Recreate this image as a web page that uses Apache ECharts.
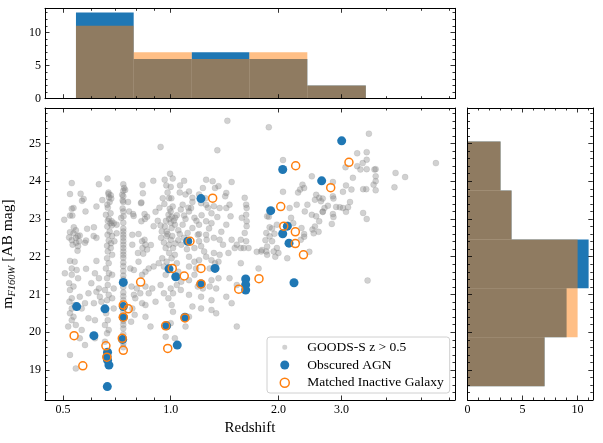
<!DOCTYPE html>
<html><head><meta charset="utf-8">
<script src="https://cdn.jsdelivr.net/npm/echarts@6/dist/echarts.min.js"></script>
<style>html,body{margin:0;padding:0;background:#fff}#c{width:603px;height:443px}</style>
</head><body><div id="c"></div>
<script>
// ---------- data (redshift z, magnitude m) ----------
const goodsPoints = [
[0.937,24.91],[0.529,23.95],[0.666,24.07],[0.63,23.92],[0.737,23.92],[0.741,23.82],[0.746,23.77],[0.523,23.66],[0.56,23.67],[0.571,23.53],[0.565,23.48],[0.67,23.66],[0.68,23.63],[0.672,23.57],[0.682,23.54],[0.732,23.64],[0.734,23.49],[0.76,23.45],[0.834,23.90],[0.836,23.68],[0.828,23.44],[0.894,24.01],[0.962,24.04],[0.972,23.89],[1.013,24.07],[0.996,24.20],[1.062,23.89],[1.09,24.01],[0.644,23.50],[0.665,23.38],[0.62,23.33],[0.529,23.27],[0.535,23.29],[0.523,23.09],[0.531,23.09],[0.578,23.20],[0.504,22.98],[0.659,23.11],[0.679,23.15],[0.684,22.94],[0.679,22.89],[0.693,22.89],[0.734,23.28],[0.738,23.07],[0.727,23.03],[0.765,23.20],[0.785,23.13],[0.788,23.08],[0.826,23.42],[0.845,23.13],[0.859,23.06],[0.847,23.00],[0.828,22.94],[0.907,23.19],[0.99,23.55],[1.004,23.55],[0.994,23.27],[1.013,23.33],[0.986,23.11],[1.006,23.06],[1.029,23.03],[1.0,22.9],[1.067,23.25],[1.08,23.38],[1.09,23.09],
[0.584,22.74],[0.61,22.78],[0.536,22.78],[0.543,22.70],[0.523,22.65],[0.535,22.62],[0.55,22.55],[0.543,22.50],[0.557,22.56],[0.52,22.51],[0.529,22.44],[0.544,22.37],[0.555,22.41],[0.58,22.43],[0.576,22.37],[0.551,22.28],[0.549,22.16],[0.532,22.32],[0.609,22.55],[0.62,22.50],
[0.665,22.80],[0.684,22.83],[0.675,22.67],[0.666,22.58],[0.686,22.55],[0.671,22.43],[0.681,22.36],[0.664,22.29],[0.68,22.23],[0.667,22.14],[0.686,22.05],[0.706,22.85],[0.706,22.62],[0.696,22.41],
[0.737,22.67],[0.737,22.58],[0.737,22.50],[0.737,22.41],[0.737,22.32],[0.737,22.23],[0.737,22.14],[0.737,22.05],[0.737,21.97],
[0.781,22.58],[0.813,22.60],[0.845,22.45],[0.832,22.41],[0.85,22.32],[0.834,22.23],[0.81,22.10],[0.838,22.08],[0.859,22.19],[0.781,22.32],[0.88,22.31],[0.896,22.81],[0.937,22.83],[0.963,22.80],[0.944,22.67],[0.974,22.67],[1.006,22.76],[1.027,22.85],[0.974,22.54],[1.0,22.45],[0.957,22.38],[0.99,22.32],[0.968,22.23],[1.015,22.23],[0.99,22.10],[1.027,22.05],[1.05,22.44],[1.07,22.32],
[1.44,25.60],[1.88,25.43],[1.35,24.82],[2.06,24.56],[2.48,24.13],[2.335,23.91],[2.36,23.82],[2.55,23.64],[2.60,23.56],[2.53,23.51],[2.63,23.47],[2.69,23.29],[2.41,23.38],[2.37,23.20],[2.48,23.11],[2.55,23.07],[2.60,22.94],[2.66,23.19],[2.49,22.72],[2.59,22.66],[2.06,23.72],[1.86,23.07],[1.89,22.78],[1.89,22.54],[1.95,22.61],[1.98,22.85],[1.92,22.41],[1.98,22.23],[2.0,22.10],[1.94,22.14],[1.85,22.14],[1.79,22.14],[2.36,22.60],[2.32,22.76],[2.31,22.45],[2.17,23.03],[2.13,22.85],[2.20,22.89],[2.25,23.38],[2.15,23.29],[1.85,22.63],
[1.256,24.04],[1.31,24.0],[1.23,23.82],[1.36,23.87],[1.33,23.82],[1.43,23.69],[1.42,23.60],[1.48,23.98],[1.46,23.38],[1.43,23.29],[1.37,23.29],[1.32,23.34],[1.256,23.38],[1.216,23.42],[1.15,23.56],[1.125,23.73],[1.14,23.29],
[1.61,23.56],[1.625,23.38],[1.63,23.29],[1.625,23.11],[1.58,23.03],[1.63,22.94],[1.63,22.81],[1.61,22.63],[1.57,22.45],[1.625,22.41],[1.60,22.23],[1.65,22.23],[1.57,22.23],
[1.47,23.07],[1.43,22.85],[1.385,22.66],[1.48,22.45],[1.40,22.32],[1.37,22.45],[1.32,22.50],[1.256,22.58],[1.30,22.89],[1.256,22.94],[1.2,22.85],[1.165,23.03],[1.125,23.20],[1.15,22.76],[1.115,22.63],[1.19,22.58],[1.2,22.41],[1.216,22.28],[1.165,22.23],[1.24,22.14],[1.32,22.10],[1.37,22.05],[1.45,22.10],[1.51,22.23],[1.53,22.32],
[3.58,25.26],[5.51,24.48],[3.53,24.77],[3.53,24.57],[3.44,24.48],[3.32,24.40],[3.39,24.31],[3.53,24.32],[3.74,24.32],[3.71,24.31],[3.08,24.37],[3.23,24.09],[4.25,24.22],[4.52,24.11],[3.74,24.13],[3.74,24.0],[3.69,23.91],[3.52,23.79],[3.45,23.79],[3.74,23.76],[4.22,23.84],[3.20,23.78],[3.09,23.89],[3.03,23.72],[2.84,23.98],[2.84,23.60],[2.85,23.54],[2.66,23.54],[2.75,23.35],[2.90,23.32],[2.97,23.31],[3.03,23.29],[3.13,23.31],[3.17,23.45],[3.09,23.19],[2.84,23.13],[2.85,23.05],[2.82,22.87],[3.45,23.16],[3.53,23.0],[2.66,23.19],[3.55,21.37],
[0.523,21.89],[0.539,21.87],[0.529,21.69],[0.546,21.65],[0.506,21.56],[0.529,21.52],[0.551,21.43],[0.52,21.30],[0.535,21.21],[0.523,21.12],[0.529,20.90],[0.521,20.81],[0.539,20.72],[0.529,20.63],[0.523,20.50],[0.535,20.41],[0.529,20.32],[0.543,20.19],[0.517,20.15],[0.58,21.68],[0.557,20.94],[0.589,21.03],[0.576,20.77],[0.564,20.63],[0.589,20.37],[0.564,20.06],[0.614,20.32],[0.614,19.84],[0.576,19.66],[0.557,19.84],[0.523,19.40],[0.543,19.04],[0.62,21.89],[0.60,21.30],[0.62,21.07],[0.61,20.77],
[0.664,21.96],[0.671,21.83],[0.659,21.69],[0.672,21.56],[0.664,21.43],[0.667,21.25],[0.655,21.12],[0.671,20.99],[0.664,20.85],[0.66,20.50],[0.667,20.32],[0.655,20.19],[0.671,20.06],[0.664,19.97],[0.655,19.75],[0.63,21.16],[0.634,20.94],[0.64,20.81],[0.686,21.52],[0.693,21.16],[0.686,20.90],[0.693,20.63],[0.614,21.56],[0.63,21.43],
[0.737,21.85],[0.737,21.75],[0.737,21.62],[0.737,21.50],[0.737,21.40],[0.737,21.20],[0.737,21.05],[0.737,20.95],[0.737,20.85],[0.737,20.55],[0.737,20.30],[0.737,20.20],[0.737,20.10],[0.737,19.95],[0.737,19.70],[0.737,19.60],
[0.771,21.69],[0.789,21.65],[0.813,21.87],[0.85,21.60],[0.832,21.52],[0.868,21.69],[0.896,21.74],[0.777,21.21],[0.804,21.16],[0.85,21.21],[0.888,21.16],[0.937,21.25],[0.789,20.99],[0.822,21.03],[0.868,21.03],[0.957,21.03],[0.796,20.90],[0.832,20.77],[0.781,20.63],[0.85,20.72],[0.907,20.81],[0.793,20.46],[0.775,20.28],[0.85,20.41],[0.878,20.15],[0.968,21.52],[0.985,20.90],[1.006,20.72],[1.015,20.54],[1.0,21.16],[1.0,20.24],[0.968,19.88],[1.027,19.84],
[0.947,21.96],[0.974,21.87],[1.006,21.96],[1.04,21.83],[0.957,21.74],[0.926,21.83],[1.05,21.60],[1.07,21.34],[1.04,21.25],[1.067,21.12],[1.015,21.03],
[1.125,22.0],[1.165,21.87],[1.2,21.91],[1.256,22.0],[1.30,21.91],[1.33,21.83],[1.36,21.87],[1.125,21.74],[1.177,21.69],[1.285,21.69],[1.36,21.43],[1.30,21.38],[1.165,21.52],[1.125,21.38],[1.19,21.21],[1.23,21.16],[1.285,21.21],[1.125,20.99],[1.216,20.94],[1.34,21.16],[1.43,20.94],[1.48,20.77],[1.57,21.83],[1.76,21.69],[1.46,21.43],[1.53,21.25],[1.15,20.68],[1.216,20.63],[1.30,20.59],[1.34,20.50],[1.125,20.41],[1.10,20.15],[1.53,20.15],[1.96,22.0],[2.117,21.96],[1.86,22.05],
[0.95,23.55],[0.96,23.4],[0.99,23.0],[1.0,23.2],[1.02,22.95],[1.04,23.1],[1.05,22.7],[0.97,22.95],[0.98,22.6],[1.01,22.55],[1.03,22.35],[1.06,22.6],[1.08,22.85],[1.1,23.0],[1.12,23.3],[1.09,22.5],[1.11,22.2],[0.94,22.5],[0.92,22.95],[0.93,23.3],[1.06,23.7],[1.1,23.65],[1.0,23.85],[0.98,23.7],
[0.667,23.3],[0.672,23.0],[0.667,22.95],[0.67,23.7],[0.675,23.45],
[0.737,22.75],[0.737,22.9],[0.737,23.2],[0.737,23.45],[0.737,23.6],[0.737,23.75],
[1.2,23.65],[1.25,23.55],[1.27,23.3],[1.15,23.45],[1.3,23.15],[1.22,23.1],[1.18,22.95],[1.35,23.05],[1.28,22.75],[1.26,22.45],[1.2,22.6],
[2.51,22.62],[2.53,22.80],[2.36,22.53],[2.44,22.13],[1.80,22.18],[1.74,22.13],[1.88,23.06],[1.92,22.75],[1.86,22.27],[1.84,22.44],[2.30,23.78],[2.27,23.70],[3.32,24.74],[1.3,20.85]
];
const agnPoints = [
[3.005,25.07],[2.056,24.31],[2.642,24.01],[1.215,23.54],[1.903,23.22],[2.118,22.81],[2.056,22.61],[2.141,22.36],[1.116,22.41],[0.989,21.68],[1.33,21.69],[1.033,21.47],[0.737,21.32],[1.62,21.41],[1.62,21.26],[1.62,21.12],[2.211,21.31],[1.215,21.28],[0.546,20.68],[0.655,20.62],[0.737,20.68],[0.737,20.40],[1.096,20.40],[0.974,20.17],[0.610,19.91],[0.734,19.81],[1.043,19.66],[0.666,19.47],[0.664,19.36],[0.666,19.26],[0.672,19.13],[0.665,18.56]
];
const inactivePoints = [
[3.149,24.50],[2.235,24.41],[2.800,23.83],[1.31,23.55],[2.03,23.33],[2.07,22.81],[2.23,22.66],[2.23,22.35],[2.35,22.05],[1.132,22.41],[1.010,21.69],[1.215,21.69],[1.091,21.49],[1.765,21.42],[0.824,21.33],[1.215,21.28],[1.549,21.14],[0.737,20.72],[0.761,20.62],[0.737,20.40],[1.096,20.38],[0.968,20.17],[0.537,19.91],[0.732,19.84],[0.659,19.64],[0.981,19.57],[0.737,19.52],[0.663,19.34],[0.568,19.11]
];
const zBinEdges = [0.5435, 0.788, 1.145, 1.659, 2.409, 3.51];
const agnZCounts = [13, 6, 7, 6, 2];
const inactiveZCounts = [11, 7, 6, 7, 2];
const magBinEdges = [18.57, 19.866, 21.162, 22.458, 23.754, 25.05];
const agnMagCounts = [7, 9, 11, 4, 3];
const inactiveMagCounts = [7, 10, 10, 4, 3];
const zTickLabels = [0.5, 1.0, 2.0, 3.0];
const zMinorTicks = [0.6, 0.7, 0.8, 0.9, 4, 5, 6];
const magTicks = [19, 20, 21, 22, 23, 24, 25];
const countTicks = [0, 5, 10];

// ---------- layout / style ----------
const FONT = 'Liberation Serif';
const L = Math.log10;
const X_RANGE = [-0.35134, 0.79456];
const Y_RANGE = [18.205, 25.94];
const TOPCOUNT_RANGE = [0, 13.65];
const RIGHTCOUNT_RANGE = [0, 11.38];
const MAJ = 4.5, MINL = 2.5;
const magMinor = [];
for (let v = 184; v <= 258; v += 2) { if (v % 10 !== 0) magMinor.push(v / 10); }
const topMinor = [], rightMinor = [];
for (let v = 1; v <= 13; v++) { if (v % 5) topMinor.push(v); if (v <= 11 && v % 5) rightMinor.push(v); }

const xAxes = [], yAxes = [];
function addAxis(list, grid, pos, range, ticks, len, extra) {
  const ax = {
    type: 'value', gridIndex: grid, position: pos, min: range[0], max: range[1],
    axisLine: { show: len === MAJ, onZero: false, lineStyle: { color: '#000', width: 1 } },
    axisTick: { show: true, inside: true, length: len, customValues: ticks, lineStyle: { color: '#000', width: 0.8 } },
    axisLabel: { show: false },
    splitLine: { show: false },
    silent: true, z: 5
  };
  Object.assign(ax, extra || {});
  list.push(ax);
  return list.length - 1;
}
function lbl(ticks, fmt) {
  return { show: true, customValues: ticks, formatter: fmt, fontFamily: FONT, fontSize: 12, color: '#000', margin: 4 };
}
const zMajorLog = zTickLabels.map(L), zMinorLog = zMinorTicks.map(L);
// grid 0: main
const mainX = addAxis(xAxes, 0, 'bottom', X_RANGE, zMajorLog, MAJ, {
  axisLabel: lbl(zMajorLog, v => Math.pow(10, v).toFixed(1)),
  name: 'Redshift', nameLocation: 'middle', nameGap: 18,
  nameTextStyle: { fontFamily: FONT, fontSize: 15, color: '#000' }
});
addAxis(xAxes, 0, 'bottom', X_RANGE, zMinorLog, MINL);
addAxis(xAxes, 0, 'top', X_RANGE, zMajorLog, MAJ);
addAxis(xAxes, 0, 'top', X_RANGE, zMinorLog, MINL);
const mainY = addAxis(yAxes, 0, 'left', Y_RANGE, magTicks, MAJ, {
  axisLabel: lbl(magTicks, v => String(v)),
  name: '{m|m}{s|F160W}{m| [AB mag]}', nameLocation: 'middle', nameGap: 16,
  nameTextStyle: { fontFamily: FONT, color: '#000', rich: {
    m: { fontFamily: FONT, fontSize: 15.5, color: '#000', lineHeight: 20 },
    s: { fontFamily: FONT, fontSize: 10.5, fontStyle: 'italic', color: '#000', verticalAlign: 'bottom', lineHeight: 11 }
  } }
});
addAxis(yAxes, 0, 'left', Y_RANGE, magMinor, MINL);
addAxis(yAxes, 0, 'right', Y_RANGE, magTicks, MAJ);
addAxis(yAxes, 0, 'right', Y_RANGE, magMinor, MINL);
// grid 1: top histogram
const topX = addAxis(xAxes, 1, 'bottom', X_RANGE, zMajorLog, MAJ);
addAxis(xAxes, 1, 'bottom', X_RANGE, zMinorLog, MINL);
addAxis(xAxes, 1, 'top', X_RANGE, zMajorLog, MAJ);
addAxis(xAxes, 1, 'top', X_RANGE, zMinorLog, MINL);
const topY = addAxis(yAxes, 1, 'left', TOPCOUNT_RANGE, countTicks, MAJ, { axisLabel: lbl(countTicks, v => String(v)) });
addAxis(yAxes, 1, 'left', TOPCOUNT_RANGE, topMinor, MINL);
addAxis(yAxes, 1, 'right', TOPCOUNT_RANGE, countTicks, MAJ);
addAxis(yAxes, 1, 'right', TOPCOUNT_RANGE, topMinor, MINL);
// grid 2: right histogram
const rightX = addAxis(xAxes, 2, 'bottom', RIGHTCOUNT_RANGE, countTicks, MAJ, { axisLabel: lbl(countTicks, v => String(v)) });
addAxis(xAxes, 2, 'bottom', RIGHTCOUNT_RANGE, rightMinor, MINL);
addAxis(xAxes, 2, 'top', RIGHTCOUNT_RANGE, countTicks, MAJ);
addAxis(xAxes, 2, 'top', RIGHTCOUNT_RANGE, rightMinor, MINL);
const rightY = addAxis(yAxes, 2, 'left', Y_RANGE, magTicks, MAJ);
addAxis(yAxes, 2, 'left', Y_RANGE, magMinor, MINL);
addAxis(yAxes, 2, 'right', Y_RANGE, magTicks, MAJ);
addAxis(yAxes, 2, 'right', Y_RANGE, magMinor, MINL);

function histSeries(edges, counts, fill, horizontal, xi, yi) {
  return {
    type: 'custom', xAxisIndex: xi, yAxisIndex: yi, silent: true, z: 2,
    data: counts.map((c, i) => horizontal ? [edges[i], edges[i + 1], c] : [L(edges[i]), L(edges[i + 1]), c]),
    renderItem: function (params, api) {
      const a = api.value(0), b = api.value(1), c = api.value(2);
      let p0, p1;
      if (horizontal) { p0 = api.coord([0, a]); p1 = api.coord([c, b]); }
      else { p0 = api.coord([a, 0]); p1 = api.coord([b, c]); }
      return { type: 'rect', shape: { x: Math.min(p0[0], p1[0]), y: Math.min(p0[1], p1[1]),
        width: Math.abs(p1[0] - p0[0]), height: Math.abs(p1[1] - p0[1]) },
        style: { fill: fill } };
    }
  };
}

const GRAY = 'rgba(128,128,128,0.36)';
const option = {
  animation: false,
  backgroundColor: '#ffffff',
  grid: [
    { left: 45, top: 108, width: 410, height: 292, containLabel: false, outerBoundsMode: 'none' },
    { left: 45, top: 8.3, width: 410, height: 90.4, containLabel: false, outerBoundsMode: 'none' },
    { left: 467.5, top: 108, width: 125.3, height: 292, containLabel: false, outerBoundsMode: 'none' }
  ],
  xAxis: xAxes,
  yAxis: yAxes,
  legend: {
    left: 267, top: 337, orient: 'vertical', selectedMode: false,
    itemWidth: 9, itemHeight: 9, itemGap: 3.7,
    padding: [3.3, 6, 3.3, 12.5],
    backgroundColor: 'rgba(255,255,255,0.85)', borderColor: '#d0d0d0', borderWidth: 1, borderRadius: 3,
    textStyle: { fontFamily: FONT, fontSize: 13.5, lineHeight: 14, color: '#000', padding: [0, 0, 0, 13] },
    data: [
      { name: 'GOODS-S z > 0.5', icon: 'path://M0,0L0.01,0M9,9L9.01,9M7,4.5A2.5,2.5,0,1,1,2,4.5A2.5,2.5,0,1,1,7,4.5Z',
        itemStyle: { color: 'rgba(128,128,128,0.36)', borderWidth: 0 } },
      { name: 'Obscured AGN', icon: 'circle', itemStyle: { color: '#1f77b4', borderWidth: 0 } },
      { name: 'Matched Inactive Galaxy', icon: 'circle',
        itemStyle: { color: 'rgba(255,255,255,0)', borderColor: '#ff7f0e', borderWidth: 1.5 } }
    ]
  },
  series: [
    histSeries(zBinEdges, agnZCounts, '#1f77b4', false, topX, topY),
    histSeries(zBinEdges, inactiveZCounts, 'rgba(255,127,14,0.5)', false, topX, topY),
    histSeries(magBinEdges, agnMagCounts, '#1f77b4', true, rightX, rightY),
    histSeries(magBinEdges, inactiveMagCounts, 'rgba(255,127,14,0.5)', true, rightX, rightY),
    {
      name: 'GOODS-S z > 0.5', type: 'scatter', xAxisIndex: mainX, yAxisIndex: mainY, z: 2,
      symbol: 'circle', symbolSize: 6, silent: true,
      itemStyle: { color: GRAY, borderColor: 'rgba(120,120,120,0.25)', borderWidth: 0.6, opacity: 1 },
      data: goodsPoints.map(p => [L(p[0]), p[1]])
    },
    {
      name: 'Obscured AGN', type: 'scatter', xAxisIndex: mainX, yAxisIndex: mainY, z: 3,
      symbol: 'circle', symbolSize: 9, silent: true,
      itemStyle: { color: '#1f77b4', opacity: 1 },
      data: agnPoints.map(p => [L(p[0]), p[1]])
    },
    {
      name: 'Matched Inactive Galaxy', type: 'scatter', xAxisIndex: mainX, yAxisIndex: mainY, z: 4,
      symbol: 'circle', symbolSize: 8, silent: true,
      itemStyle: { color: 'rgba(255,255,255,0)', borderColor: '#ff7f0e', borderWidth: 1.5, opacity: 1 },
      data: inactivePoints.map(p => [L(p[0]), p[1]])
    }
  ]
};
const chart = echarts.init(document.getElementById('c'), null, { renderer: 'canvas' });
chart.setOption(option);
</script>
</body></html>
